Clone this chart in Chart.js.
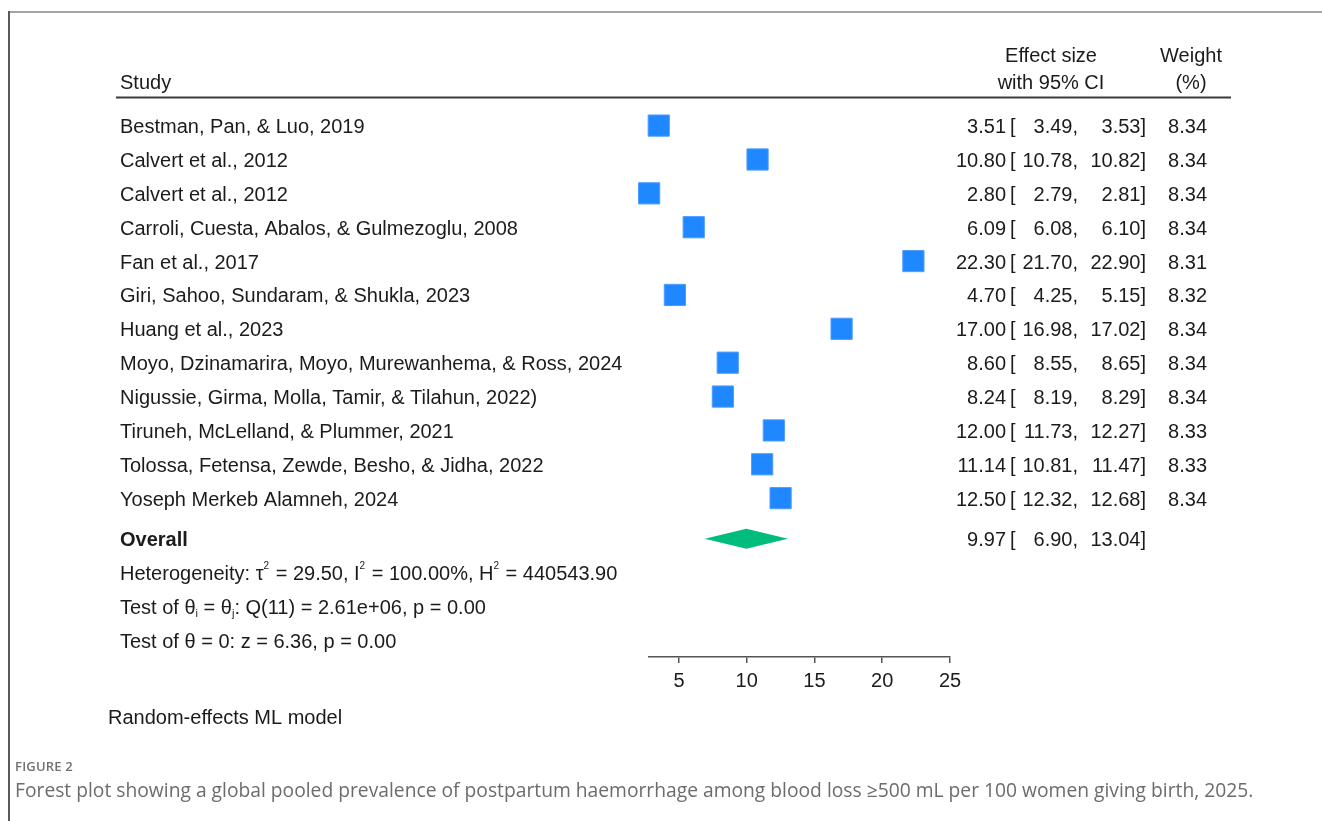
<!DOCTYPE html>
<html>
<head>
<meta charset="utf-8">
<title>Forest plot – postpartum haemorrhage prevalence</title>
<script src="https://cdn.jsdelivr.net/npm/chart.js@4.4.1/dist/chart.umd.min.js"></script>
<style>
  html, body { margin: 0; padding: 0; background: #fff; }
  #page { position: relative; width: 1322px; height: 821px; overflow: hidden; background: #fff; }
  #forest { position: absolute; left: 0; top: 0; }
  .frame-top { position: absolute; left: 8px; top: 11px; right: 0; border-top: 2px solid #a3a3a3; }
  .frame-left { position: absolute; left: 8px; top: 11px; bottom: 0; border-left: 2px solid #5a5a5a; }
  .fig-label { position: absolute; left: 15px; top: 757px; font: 600 13px "Open Sans", sans-serif; color: #707070; letter-spacing: 0.2px; }
  .fig-caption { position: absolute; left: 15px; top: 776px; font: 400 19.25px "Open Sans", sans-serif; color: #6c6c6c; white-space: nowrap; }
</style>
</head>
<body>
<div id="page">
  <canvas id="forest" width="1322" height="821"></canvas>
  <div class="frame-top"></div>
  <div class="frame-left"></div>
  <div class="fig-label">FIGURE 2</div>
  <div class="fig-caption">Forest plot showing a global pooled prevalence of postpartum haemorrhage among blood loss ≥500 mL per 100 women giving birth, 2025.</div>
</div>
<script>
// ---- study data ----
const studies = [
  'Bestman, Pan, & Luo, 2019',
  'Calvert et al., 2012',
  'Calvert et al., 2012',
  'Carroli, Cuesta, Abalos, & Gulmezoglu, 2008',
  'Fan et al., 2017',
  'Giri, Sahoo, Sundaram, & Shukla, 2023',
  'Huang et al., 2023',
  'Moyo, Dzinamarira, Moyo, Murewanhema, & Ross, 2024',
  'Nigussie, Girma, Molla, Tamir, & Tilahun, 2022)',
  'Tiruneh, McLelland, & Plummer, 2021',
  'Tolossa, Fetensa, Zewde, Besho, & Jidha, 2022',
  'Yoseph Merkeb Alamneh, 2024'
];
const effects = [3.51, 10.80, 2.80, 6.09, 22.30, 4.70, 17.00, 8.60, 8.24, 12.00, 11.14, 12.50];
const ciLow   = [3.49, 10.78, 2.79, 6.08, 21.70, 4.25, 16.98, 8.55, 8.19, 11.73, 10.81, 12.32];
const ciHigh  = [3.53, 10.82, 2.81, 6.10, 22.90, 5.15, 17.02, 8.65, 8.29, 12.27, 11.47, 12.68];
const weights = [8.34, 8.34, 8.34, 8.34, 8.31, 8.32, 8.34, 8.34, 8.34, 8.33, 8.33, 8.34];

// ---- pooled estimate and test statistics ----
const overallEffect = 9.97;
const overallLow = 6.90;
const overallHigh = 13.04;
const tau2 = 29.50;
const i2 = 100.00;
const h2 = 440543.90;
const qStat = '2.61e+06';
const qDf = 11;
const qP = 0.00;
const zStat = 6.36;
const zP = 0.00;

// ---- axis ----
const xTicks = [5, 10, 15, 20, 25];
const xMin = Math.min(...ciLow);
const xMax = 25;

// ---- row layout (in y-scale units, one unit per study row) ----
const rows = {
  headTop: -1.09, headBottom: -0.30, rule: 0.17,
  overall: 13.2, hetero: 14.2, testEq: 15.2, testZero: 16.2,
  axisEnd: 16.69, top: -2
};
const colX = {
  label: 120, effect: 1006, bracket: 1010, low: 1078, high: 1146,
  weight: 1207, effHead: 1051, wHead: 1191, ruleL: 116, ruleR: 1231, note: 108
};
const TEXT_DY = 2; // optical centring of text on its row

const FONT = '"Liberation Sans", Arial, Helvetica, sans-serif';
const INK = '#1b1b1b';
const BOX = '#1f87ff';
const DIAMOND = '#00bd7d';

function richText(ctx, x, y, parts) {
  let cx = x;
  for (const p of parts) {
    if (p.sup) {
      ctx.font = '10px ' + FONT;
      ctx.fillText(p.t, cx, y - 8);
      cx += ctx.measureText(p.t).width + 1;
    } else if (p.sub) {
      ctx.font = '11px ' + FONT;
      ctx.fillText(p.t, cx, y + 5);
      cx += ctx.measureText(p.t).width;
    } else {
      ctx.font = '20px ' + FONT;
      ctx.fillText(p.t, cx, y);
      cx += ctx.measureText(p.t).width;
    }
  }
}

const forestLayer = {
  id: 'forestLayer',
  beforeDatasetsDraw(chart) {
    const { ctx } = chart;
    const xs = chart.scales.x, ys = chart.scales.y;
    ctx.save();
    ctx.strokeStyle = '#444';
    ctx.lineWidth = 1.2;
    effects.forEach((e, i) => {
      const y = ys.getPixelForValue(i + 1);
      ctx.beginPath();
      ctx.moveTo(xs.getPixelForValue(ciLow[i]), y);
      ctx.lineTo(xs.getPixelForValue(ciHigh[i]), y);
      ctx.stroke();
    });
    ctx.restore();
  },
  afterDatasetsDraw(chart) {
    const { ctx } = chart;
    const xs = chart.scales.x, ys = chart.scales.y;
    const py = v => ys.getPixelForValue(v);
    const ty = v => py(v) + TEXT_DY;
    ctx.save();

    // pooled-estimate diamond
    const yc = py(rows.overall);
    const halfH = 10;
    ctx.fillStyle = DIAMOND;
    ctx.beginPath();
    ctx.moveTo(xs.getPixelForValue(overallLow), yc);
    ctx.lineTo(xs.getPixelForValue(overallEffect), yc - halfH);
    ctx.lineTo(xs.getPixelForValue(overallHigh), yc);
    ctx.lineTo(xs.getPixelForValue(overallEffect), yc + halfH);
    ctx.closePath();
    ctx.fill();

    ctx.fillStyle = INK;
    ctx.textBaseline = 'middle';
    ctx.font = '20px ' + FONT;

    // header
    ctx.textAlign = 'left';
    ctx.fillText('Study', colX.label, ty(rows.headBottom));
    ctx.textAlign = 'center';
    ctx.fillText('Effect size', colX.effHead, ty(rows.headTop));
    ctx.fillText('with 95% CI', colX.effHead, ty(rows.headBottom));
    ctx.fillText('Weight', colX.wHead, ty(rows.headTop));
    ctx.fillText('(%)', colX.wHead, ty(rows.headBottom));

    ctx.strokeStyle = '#3a3a3a';
    ctx.lineWidth = 2;
    ctx.beginPath();
    ctx.moveTo(colX.ruleL, py(rows.rule));
    ctx.lineTo(colX.ruleR, py(rows.rule));
    ctx.stroke();

    // one text row per study
    const estimateRow = (y, e, lo, hi) => {
      ctx.textAlign = 'right';
      ctx.fillText(e.toFixed(2), colX.effect, y);
      ctx.textAlign = 'left';
      ctx.fillText('[', colX.bracket, y);
      ctx.textAlign = 'right';
      ctx.fillText(lo.toFixed(2) + ',', colX.low, y);
      ctx.fillText(hi.toFixed(2) + ']', colX.high, y);
    };
    studies.forEach((name, i) => {
      const y = ty(i + 1);
      ctx.textAlign = 'left';
      ctx.fillText(name, colX.label, y);
      estimateRow(y, effects[i], ciLow[i], ciHigh[i]);
      ctx.textAlign = 'right';
      ctx.fillText(weights[i].toFixed(2), colX.weight, y);
    });

    // pooled row
    const yo = ty(rows.overall);
    ctx.textAlign = 'left';
    ctx.font = 'bold 20px ' + FONT;
    ctx.fillText('Overall', colX.label, yo);
    ctx.font = '20px ' + FONT;
    estimateRow(yo, overallEffect, overallLow, overallHigh);

    // heterogeneity and tests
    ctx.textAlign = 'left';
    richText(ctx, colX.label, ty(rows.hetero), [
      { t: 'Heterogeneity: τ' }, { t: '2', sup: true },
      { t: ' = ' + tau2.toFixed(2) + ', I' }, { t: '2', sup: true },
      { t: ' = ' + i2.toFixed(2) + '%, H' }, { t: '2', sup: true },
      { t: ' = ' + h2.toFixed(2) }
    ]);
    richText(ctx, colX.label, ty(rows.testEq), [
      { t: 'Test of θ' }, { t: 'i', sub: true }, { t: ' = θ' }, { t: 'j', sub: true },
      { t: ': Q(' + qDf + ') = ' + qStat + ', p = ' + qP.toFixed(2) }
    ]);
    richText(ctx, colX.label, ty(rows.testZero), [
      { t: 'Test of θ = 0: z = ' + zStat.toFixed(2) + ', p = ' + zP.toFixed(2) }
    ]);

    // model note under the axis
    ctx.font = '20px ' + FONT;
    ctx.textAlign = 'left';
    ctx.fillText('Random-effects ML model', colX.note, 718);

    ctx.restore();
  }
};

new Chart(document.getElementById('forest'), {
  type: 'scatter',
  data: {
    datasets: [{
      data: effects.map((e, i) => ({ x: e, y: i + 1 })),
      pointStyle: 'rect',
      pointRadius: 15,
      pointHoverRadius: 15,
      backgroundColor: BOX,
      borderColor: '#4f9dff',
      borderWidth: 1,
      clip: false
    }]
  },
  options: {
    responsive: false,
    animation: false,
    devicePixelRatio: 1,
    events: [],
    layout: { padding: { left: 649, right: 372, top: 24, bottom: 124 } },
    plugins: { legend: { display: false }, tooltip: { enabled: false } },
    scales: {
      x: {
        type: 'linear',
        min: xMin,
        max: xMax,
        afterBuildTicks: s => { s.ticks = xTicks.map(v => ({ value: v })); },
        afterFit: s => { s.height = 40; },
        grid: { drawOnChartArea: false, drawTicks: true, tickLength: 6, color: '#555', lineWidth: 1.5 },
        border: { display: true, color: '#555', width: 1.5 },
        ticks: { font: { family: FONT, size: 20 }, color: INK, padding: 6, maxRotation: 0, autoSkip: false }
      },
      y: { type: 'linear', display: false, reverse: true, min: rows.top, max: rows.axisEnd }
    }
  },
  plugins: [forestLayer]
});
</script>
</body>
</html>
